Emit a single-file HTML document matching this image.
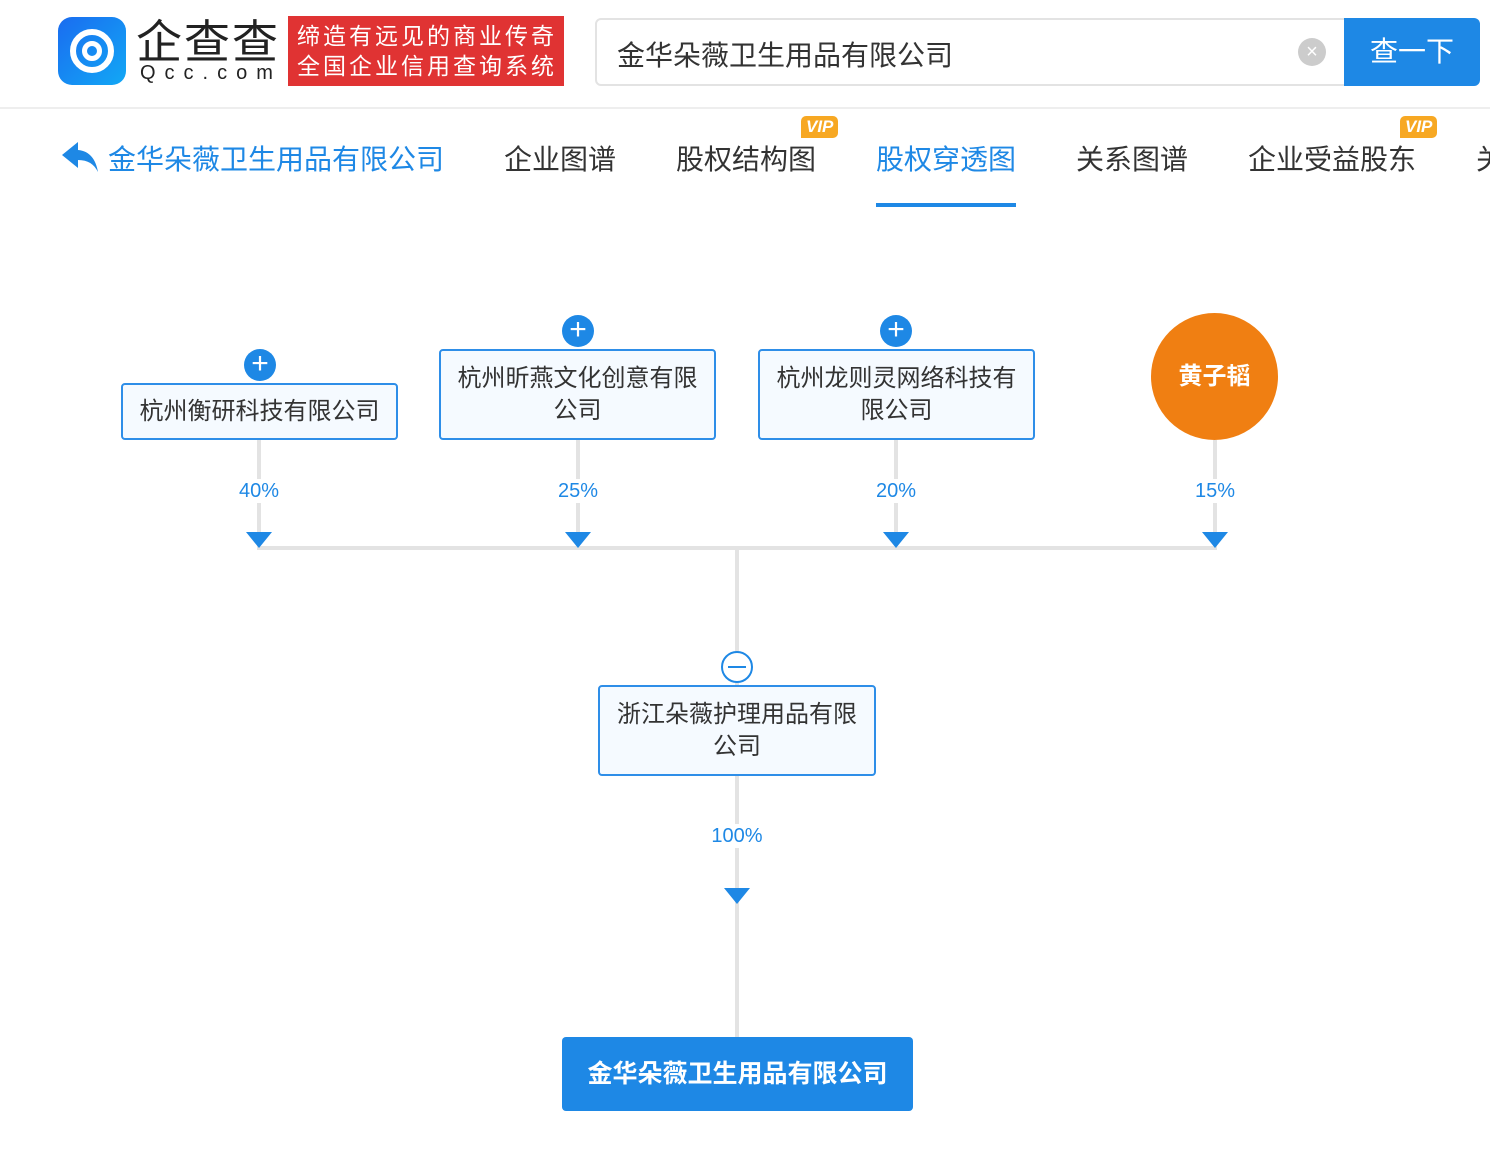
<!DOCTYPE html>
<html><head><meta charset="utf-8"><style>
*{margin:0;padding:0;box-sizing:border-box}
body{width:1490px;height:1156px;background:#fff;position:relative;overflow:hidden;font-family:"Liberation Sans","Noto Sans CJK SC",sans-serif}
.a{position:absolute}
.box{position:absolute;background:#f5faff;border:2px solid #2e8ee8;border-radius:4px;color:#333;font-size:24px;line-height:32px;text-align:center;display:flex;align-items:center;justify-content:center}
.vl{position:absolute;width:4px;background:#e3e3e3}
.hl{position:absolute;height:4px;background:#e3e3e3}
.pct{position:absolute;color:#1e88e5;font-size:20px;background:#fff;width:70px;text-align:center;line-height:24px}
.tri{position:absolute;width:0;height:0;border-left:13px solid transparent;border-right:13px solid transparent;border-top:16px solid #1e88e5}
.plus{position:absolute;width:32px;height:32px;border-radius:50%;background:#1e88e5;color:#fff;font-size:30px;line-height:30px;text-align:center}
.nav{position:absolute;top:138px;font-size:28px;color:#333}
.vip{position:absolute;background:#f7a823;color:#fff;font-size:17px;font-weight:bold;font-style:italic;border-radius:5px 5px 5px 0;padding:0 5px;line-height:22px}
</style></head><body>
<div class="a" style="left:58px;top:17px;width:68px;height:68px;border-radius:14px;background:linear-gradient(135deg,#1a6cf0,#12a8f5)"></div>
<div class="a" style="left:70px;top:29px;width:44px;height:44px;border-radius:50%;border:6px solid #fff"></div>
<div class="a" style="left:82px;top:41px;width:20px;height:20px;border-radius:50%;border:5px solid #fff"></div>
<div class="a" style="left:136px;top:14px;font-size:46px;color:#222;letter-spacing:2px;line-height:56px">企查查</div>
<div class="a" style="left:140px;top:62px;font-size:20px;color:#222;letter-spacing:9px">Qcc.com</div>
<div class="a" style="left:288px;top:16px;width:276px;height:70px;background:#e03333;color:#fff;font-size:23px;line-height:30px;padding:5px 0 0 9px;letter-spacing:3px;white-space:nowrap;overflow:hidden">缔造有远见的商业传奇<br>全国企业信用查询系统</div>
<div class="a" style="left:595px;top:18px;width:760px;height:68px;border:2px solid #e3e3e3;border-radius:6px 0 0 6px"></div>
<div class="a" style="left:617px;top:34px;font-size:28px;color:#333">金华朵薇卫生用品有限公司</div>
<div class="a" style="left:1298px;top:38px;width:28px;height:28px;border-radius:50%;background:#ccc;color:#fff;text-align:center;line-height:28px;font-size:20px">×</div>
<div class="a" style="left:1344px;top:18px;width:136px;height:68px;background:#1e88e5;border-radius:0 6px 6px 0;color:#fff;font-size:28px;text-align:center;line-height:68px">查一下</div>
<div class="a" style="left:0;top:107px;width:1490px;height:2px;background:#eee"></div>
<svg class="a" style="left:60px;top:140px" width="40" height="34" viewBox="0 0 40 34"><path d="M18 2 L2 15 L18 28 L18 20 C28 20 34 24 38 32 C36 20 30 11 18 10 Z" fill="#1e88e5"/></svg>
<div class="nav" style="left:108px;color:#1e88e5">金华朵薇卫生用品有限公司</div>
<div class="nav" style="left:504px">企业图谱</div>
<div class="nav" style="left:676px">股权结构图</div>
<div class="vip" style="left:801px;top:116px">VIP</div>
<div class="nav" style="left:876px;color:#1e88e5">股权穿透图</div>
<div class="a" style="left:876px;top:203px;width:140px;height:4px;background:#1e88e5"></div>
<div class="nav" style="left:1076px">关系图谱</div>
<div class="nav" style="left:1248px">企业受益股东</div>
<div class="vip" style="left:1400px;top:116px">VIP</div>
<div class="nav" style="left:1476px">关</div>

<div class="vl" style="left:257px;top:440px;height:108px"></div>
<div class="vl" style="left:576px;top:440px;height:108px"></div>
<div class="vl" style="left:894px;top:440px;height:108px"></div>
<div class="vl" style="left:1213px;top:440px;height:108px"></div>
<div class="hl" style="left:257px;top:546px;width:960px"></div>
<div class="vl" style="left:735px;top:546px;height:140px"></div>
<div class="vl" style="left:735px;top:775px;height:262px"></div>

<div class="pct" style="left:224px;top:479px">40%</div>
<div class="pct" style="left:543px;top:479px">25%</div>
<div class="pct" style="left:861px;top:479px">20%</div>
<div class="pct" style="left:1180px;top:479px">15%</div>
<div class="pct" style="left:702px;top:824px">100%</div>
<div class="tri" style="left:246px;top:532px"></div>
<div class="tri" style="left:565px;top:532px"></div>
<div class="tri" style="left:883px;top:532px"></div>
<div class="tri" style="left:1202px;top:532px"></div>
<div class="tri" style="left:724px;top:888px"></div>

<div class="box" style="left:121px;top:383px;width:277px;height:57px">杭州衡研科技有限公司</div>
<div class="box" style="left:439px;top:349px;width:277px;height:91px">杭州昕燕文化创意有限<br>公司</div>
<div class="box" style="left:758px;top:349px;width:277px;height:91px">杭州龙则灵网络科技有<br>限公司</div>
<div class="a" style="left:1151px;top:313px;width:127px;height:127px;border-radius:50%;background:#f07f12;color:#fff;font-size:24px;font-weight:bold;text-align:center;line-height:127px">黄子韬</div>
<div class="plus" style="left:244px;top:349px">+</div>
<div class="plus" style="left:562px;top:315px">+</div>
<div class="plus" style="left:880px;top:315px">+</div>
<div class="a" style="left:721px;top:651px;width:32px;height:32px;border-radius:50%;border:2px solid #1e88e5;background:#fff"></div>
<div class="a" style="left:728px;top:666px;width:18px;height:2px;background:#1e88e5"></div>
<div class="box" style="left:598px;top:685px;width:278px;height:91px">浙江朵薇护理用品有限<br>公司</div>
<div class="a" style="left:562px;top:1037px;width:351px;height:74px;background:#1e88e5;border-radius:4px;color:#fff;font-size:25px;font-weight:bold;text-align:center;line-height:74px">金华朵薇卫生用品有限公司</div>
</body></html>
